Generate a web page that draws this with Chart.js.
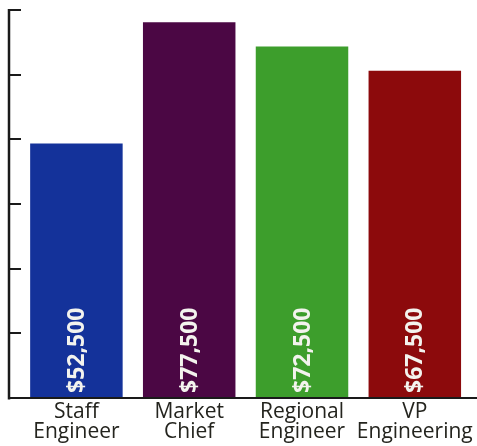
<!DOCTYPE html>
<html>
<head>
<meta charset="utf-8">
<script src="https://cdn.jsdelivr.net/npm/chart.js@4/dist/chart.umd.min.js"></script>
<style>
  html, body { margin: 0; padding: 0; background: #ffffff; }
  #wrap { width: 477px; height: 446px; position: relative; }
</style>
</head>
<body>
<div id="wrap"><canvas id="c" width="477" height="446"></canvas></div>
<script>
// Salary by role
const categories = [["Staff", "Engineer"], ["Market", "Chief"], ["Regional", "Engineer"], ["VP", "Engineering"]];
const salaries = [52500, 77500, 72500, 67500];
const barColors = ["#14329a", "#4b0744", "#3d9e2c", "#8c0a0c"];
const yTicks = [0, 13333.33, 26666.67, 40000, 53333.33, 66666.67, 80000];
const yMax = 80000;

const fmt = v => "$" + v.toLocaleString("en-US");

// Axis line, bottom rule and inward tick marks
const axisPlugin = {
  id: "axisLines",
  afterDatasetsDraw(chart) {
    const { ctx, scales } = chart;
    const y = scales.y;
    const axisX = 9;
    const base = y.getPixelForValue(0);
    ctx.save();
    ctx.strokeStyle = "#1a1a1a";
    ctx.lineCap = "butt";
    ctx.lineWidth = 2.5;
    ctx.beginPath();
    ctx.moveTo(axisX, y.getPixelForValue(yMax) - 1);
    ctx.lineTo(axisX, base + 1.5);
    ctx.stroke();
    ctx.lineWidth = 2;
    ctx.beginPath();
    ctx.moveTo(axisX - 1, base);
    ctx.lineTo(chart.width, base);
    ctx.stroke();
    yTicks.forEach(v => {
      if (v === 0) return;
      const py = Math.round(y.getPixelForValue(v));
      ctx.beginPath();
      ctx.moveTo(axisX, py);
      ctx.lineTo(axisX + 12, py);
      ctx.stroke();
    });
    ctx.restore();
  }
};

// Rotated value labels inside each bar
const valueLabels = {
  id: "valueLabels",
  afterDatasetsDraw(chart) {
    const { ctx } = chart;
    const meta = chart.getDatasetMeta(0);
    ctx.save();
    ctx.fillStyle = "#f3f3ee";
    ctx.font = "bold 23px 'Open Sans'";
    ctx.textAlign = "left";
    ctx.textBaseline = "middle";
    meta.data.forEach((bar, i) => {
      const { x, base } = bar.getProps(["x", "base"], true);
      ctx.save();
      ctx.translate(x, base - 5);
      ctx.rotate(-Math.PI / 2);
      ctx.fillText(fmt(salaries[i]), 0, 1);
      ctx.restore();
    });
    ctx.restore();
  }
};

new Chart(document.getElementById("c"), {
  type: "bar",
  data: {
    labels: categories,
    datasets: [{
      data: salaries,
      backgroundColor: barColors,
      borderWidth: 0,
      categoryPercentage: 1.0,
      barPercentage: 0.82
    }]
  },
  options: {
    responsive: false,
    animation: false,
    layout: { padding: { left: 20, top: 10, right: 2, bottom: 0 } },
    plugins: { legend: { display: false }, tooltip: { enabled: false } },
    scales: {
      y: {
        display: false,
        min: 0,
        max: yMax
      },
      x: {
        grid: { display: false, drawTicks: false },
        border: { display: false },
        ticks: {
          color: "#24241e",
          font: { family: "'Open Sans'", size: 21, lineHeight: 0.95 },
          padding: 4,
          maxRotation: 0,
          autoSkip: false
        },
        afterFit(scale) { scale.height = 48; }
      }
    }
  },
  plugins: [axisPlugin, valueLabels]
});
</script>
</body>
</html>
